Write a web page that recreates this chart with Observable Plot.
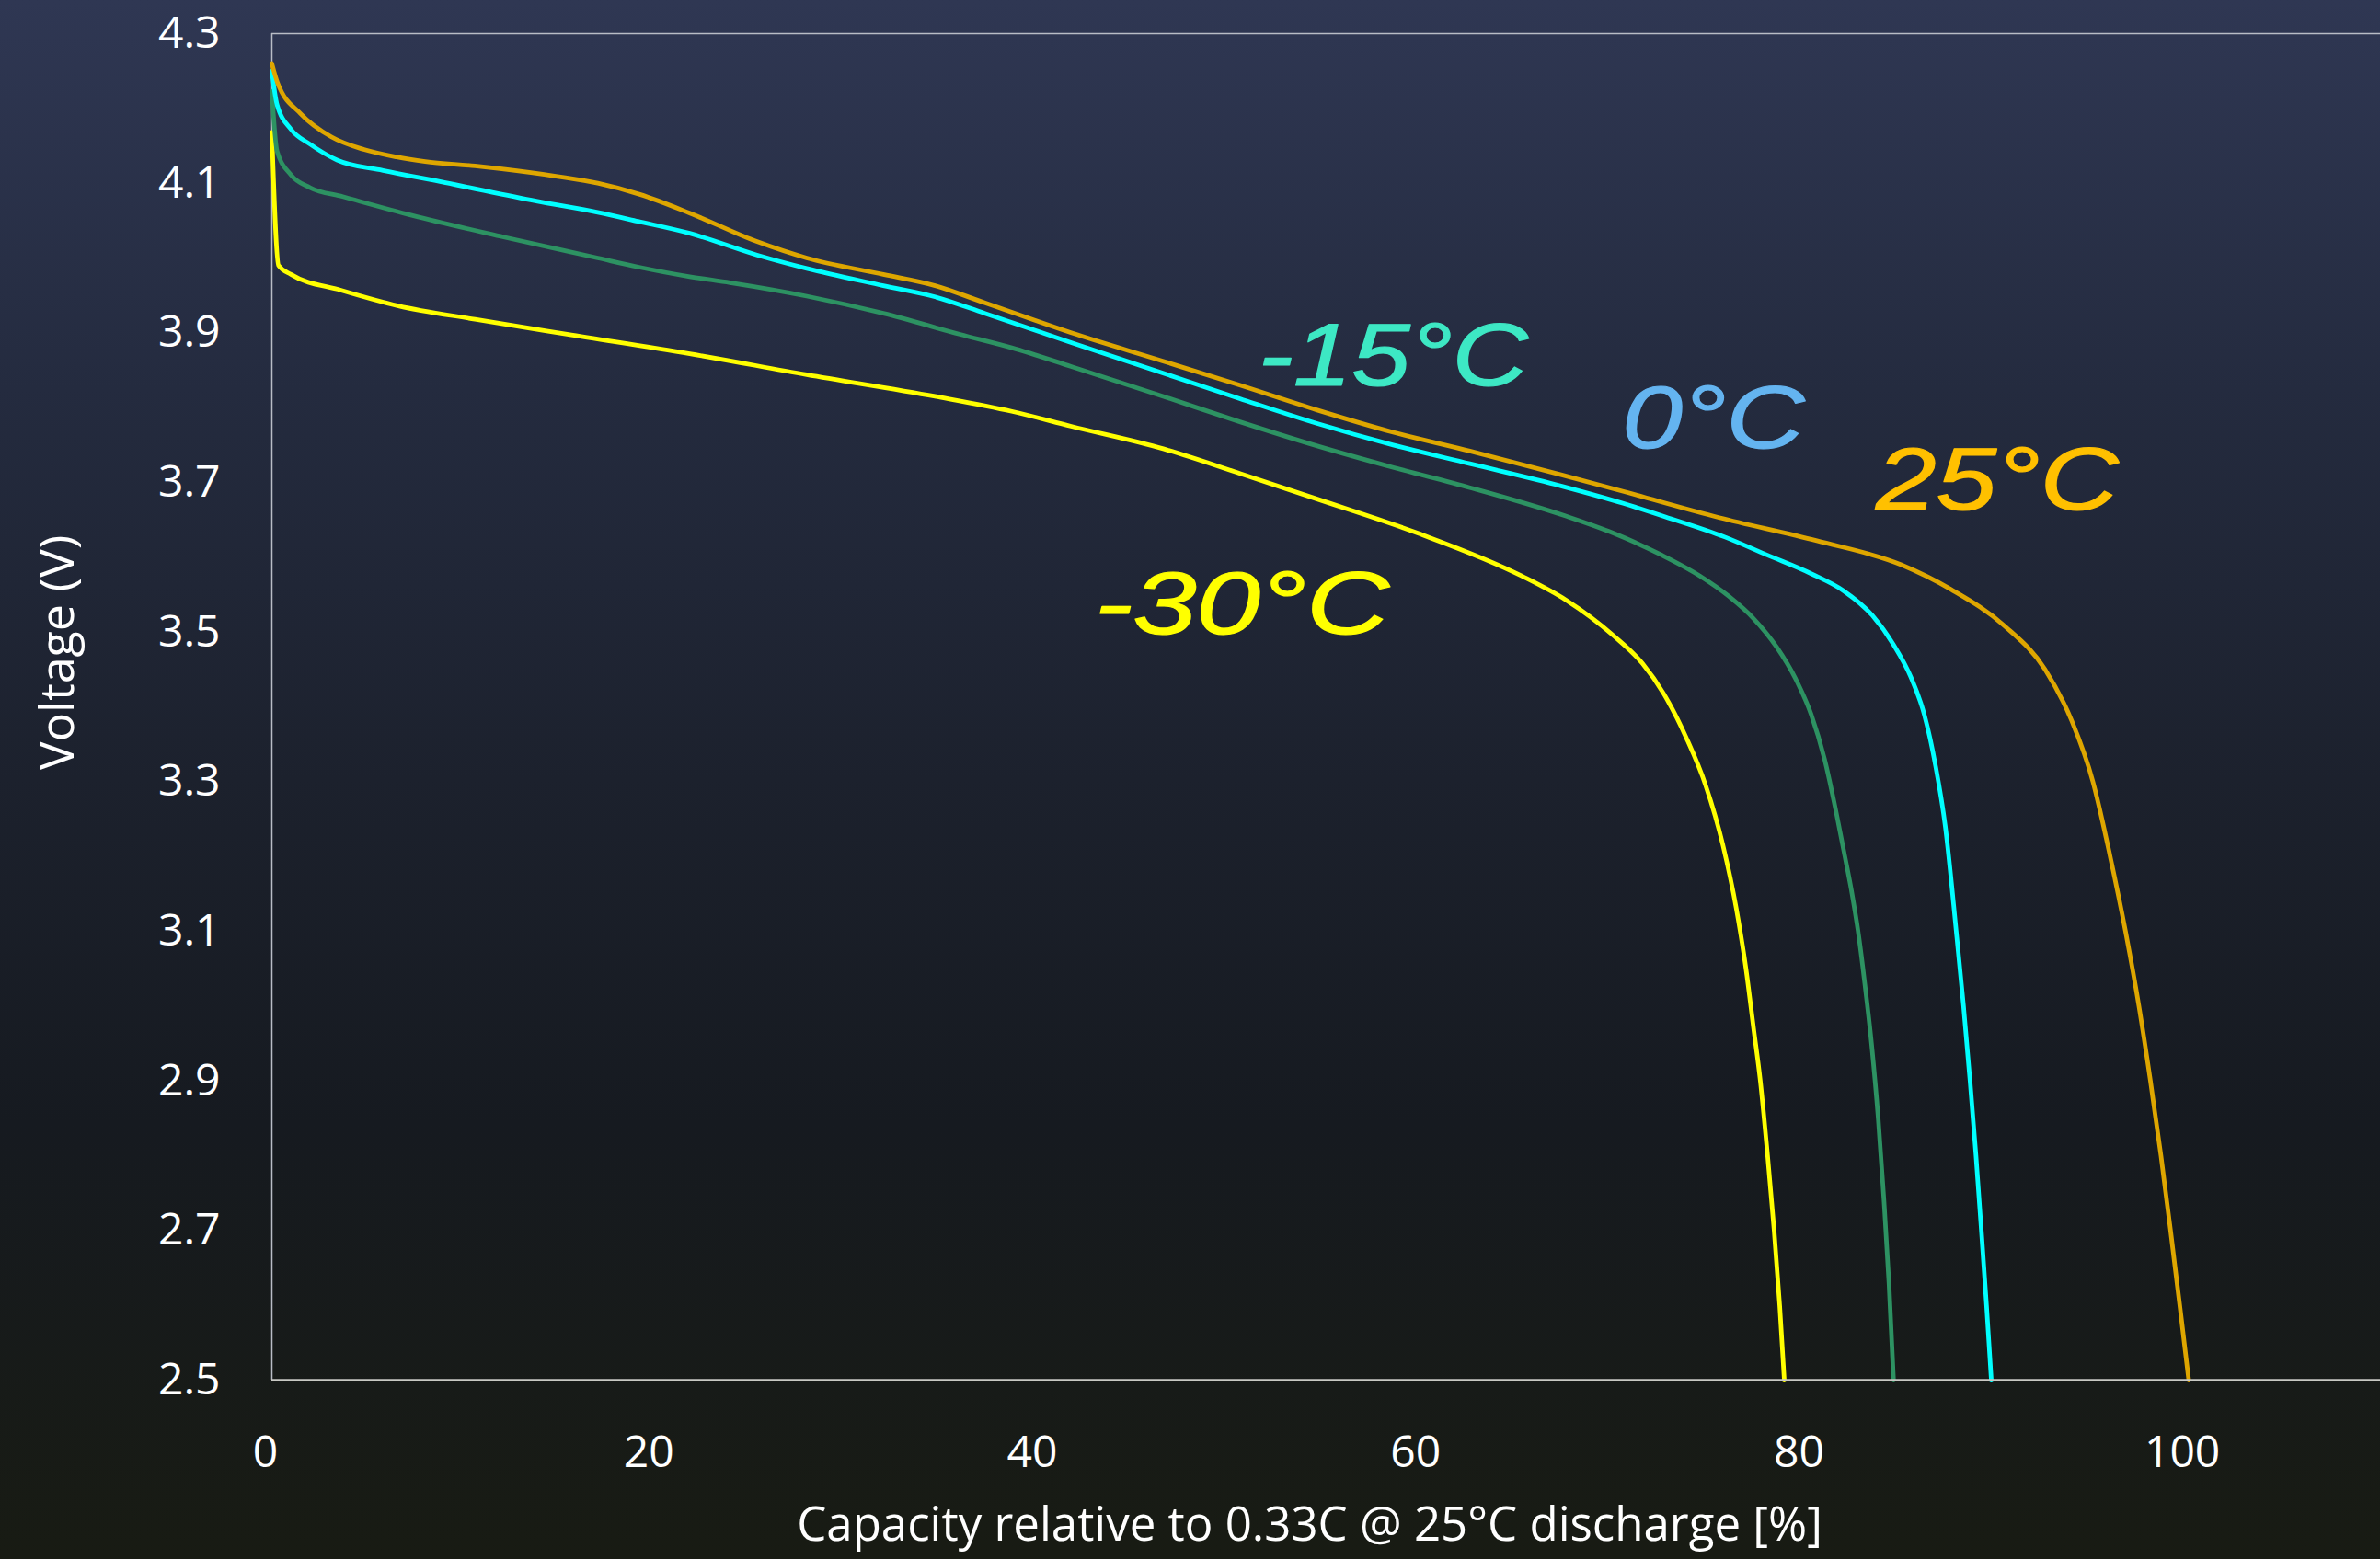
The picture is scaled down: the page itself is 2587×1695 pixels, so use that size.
<!DOCTYPE html>
<html>
<head>
<meta charset="utf-8">
<script src="https://cdn.jsdelivr.net/npm/d3@7"></script>
<script src="https://cdn.jsdelivr.net/npm/@observablehq/plot@0.6"></script>
<style>
html, body { margin: 0; padding: 0; }
body {
  width: 2587px; height: 1695px; overflow: hidden;
  background: linear-gradient(to bottom, #2f3753 0%, #242b3f 25%, #1c212d 50%, #161a20 72%, #181b13 100%);
}
#chart svg { display: block; }
</style>
</head>
<body>
<div id="chart"></div>
<script>
// ---- data ----
const xTicks = [0, 20, 40, 60, 80, 100];
const yTicks = [2.5, 2.7, 2.9, 3.1, 3.3, 3.5, 3.7, 3.9, 4.1, 4.3];
const xTitle = "Capacity relative to 0.33C @ 25°C discharge [%]";
const yTitle = "Voltage (V)";

// 25°C
const cap25 = [0,0.3,1.5,3.1,4.8,6.5,8,10.6,12,14.9,17,19.2,21.8,25.3,27.9,31.9,34.6,37.2,41.7,46.5,50.5,54.5,58.5,62.5,67.3,70.5,75.5,80.6,85,87.6,90.4,92.5,93.9,95,95.9,96.7,97.4,98,98.55,99.05,99.53,100];
const volt25 = [4.26,4.234,4.193,4.162,4.145,4.135,4.129,4.123,4.119,4.109,4.1,4.085,4.06,4.022,4.0,3.978,3.963,3.94,3.9,3.862,3.83,3.797,3.767,3.742,3.71,3.688,3.653,3.622,3.59,3.557,3.508,3.45,3.381,3.3,3.2,3.1,3.0,2.9,2.8,2.7,2.6,2.5];

// 0°C
const cap0 = [0,0.27,1,2,3.4,5.8,9,13.8,17,19.1,21.8,25.3,27.9,31.9,34.6,37.2,41.7,46.5,50.5,54.5,58.5,62.5,67.3,70.5,72.7,75.8,78,80.3,82,83.5,84.6,85.5,86.2,86.8,87.3,87.87,88.25,88.59,88.9,89.18,89.45,89.7];
const volt0 = [4.25,4.205,4.172,4.152,4.131,4.117,4.101,4.076,4.061,4.049,4.033,4.004,3.986,3.963,3.948,3.926,3.887,3.846,3.812,3.779,3.75,3.725,3.695,3.672,3.654,3.627,3.603,3.578,3.555,3.522,3.483,3.44,3.39,3.32,3.24,3.1,3.0,2.9,2.8,2.7,2.6,2.5];

// -15°C
const capM15 = [0,0.27,1,2,3.7,7.3,12.1,17,19.1,21.8,23.9,27.9,31.9,35.9,38.6,41.7,46.5,50.5,54.5,58.5,62.5,67.5,70,72.5,74.5,76,77.3,78.5,79.5,80.3,81,81.6,82,82.4,82.75,83.1,83.45,83.8,84.1,84.36,84.6];
const voltM15 = [4.223,4.143,4.111,4.094,4.082,4.057,4.028,4.0,3.988,3.975,3.967,3.949,3.926,3.898,3.88,3.855,3.815,3.781,3.749,3.72,3.693,3.655,3.632,3.603,3.575,3.548,3.518,3.48,3.437,3.39,3.33,3.26,3.208,3.155,3.1,3.03,2.95,2.85,2.74,2.63,2.5];

// -30°C
const capM30 = [0,0.35,1,3.6,6.6,10.6,15.4,21.8,27.9,34.6,38.6,41.7,46.5,50.5,54.5,59.8,65.2,67.5,70,71.5,72.6,73.8,74.8,75.7,76.4,76.9,77.3,77.65,78.03,78.37,78.66,78.9];
const voltM30 = [4.168,3.99,3.978,3.957,3.936,3.918,3.898,3.872,3.844,3.815,3.795,3.775,3.745,3.712,3.678,3.632,3.575,3.543,3.495,3.458,3.418,3.358,3.295,3.215,3.13,3.05,2.97,2.9,2.8,2.7,2.6,2.5];

const seriesCaps = [capM30, capM15, cap0, cap25];
const seriesVolts = [voltM30, voltM15, volt0, volt25];
const seriesColors = ["#ffff00", "#2d9262", "#00ffff", "#dea600"];

// curve labels
const labelText = ["-15°C", "0°C", "25°C", "-30°C"];
const labelCap = [58.5, 75.2, 90.0, 50.6];
const labelVolt = [3.867, 3.784, 3.701, 3.535];
const labelColor = ["#3de8c4", "#64b4f0", "#ffc000", "#ffff00"];
const labelStretch = [1.19, 1.23, 1.23, 1.30];

// ---- build ----
const lineMarks = seriesCaps.map((caps, s) =>
  Plot.line(caps.map((c, i) => ({cap: c, v: seriesVolts[s][i]})), {
    x: "cap", y: "v", stroke: seriesColors[s], strokeWidth: 4.8, curve: "monotone-x"
  })
);

const textMarks = labelText.map((t, i) =>
  Plot.text([{t, cap: labelCap[i], v: labelVolt[i], k: labelStretch[i]}], {
    x: "cap", y: "v", text: "t", fill: labelColor[i],
    stroke: labelColor[i], strokeWidth: 1.2,
    fontSize: 96, fontFamily: "'Liberation Sans', Arial, sans-serif", fontStyle: "italic",
    title: d => String(d.k)
  })
);

const chart = Plot.plot({
  width: 2587, height: 1695,
  marginTop: 36, marginBottom: 195, marginLeft: 295, marginRight: 0,
  style: {background: "transparent", color: "#ffffff", fontFamily: "'Open Sans', sans-serif", fontSize: "48px", overflow: "visible"},
  x: {domain: [0, 110]},
  y: {domain: [2.5, 4.3]},
  marks: [
    Plot.ruleY([4.3], {stroke: "#b9bdc6", strokeWidth: 1.5}),
    Plot.ruleX([0], {stroke: "#b9bdc6", strokeWidth: 1.5}),
    ...lineMarks,
    Plot.ruleY([2.5], {stroke: "#c9c9c4", strokeWidth: 2.5}),
    Plot.axisX({ticks: xTicks, tickSize: 0, tickPadding: 60, dx: -7, label: null}),
    Plot.axisY({ticks: yTicks, tickSize: 0, tickPadding: 56, tickFormat: d3.format(".1f"), label: null}),
    Plot.text([xTitle], {frameAnchor: "bottom", textAnchor: "middle", lineAnchor: "middle", dx: -18, dy: 158, fontSize: 51, fill: "#ffffff"}),
    Plot.text([yTitle], {frameAnchor: "left", textAnchor: "middle", lineAnchor: "middle", rotate: -90, dx: -232, dy: -59, fontSize: 52, fill: "#ffffff"}),
    ...textMarks
  ]
});

document.getElementById("chart").appendChild(chart);

// widen the curve labels horizontally like the reference lettering
chart.querySelectorAll("text").forEach(el => {
  const t = el.querySelector("title");
  if (!t) return;
  const k = +t.textContent;
  t.remove();
  const len = el.getComputedTextLength();
  el.setAttribute("textLength", (len * k).toFixed(1));
  el.setAttribute("lengthAdjust", "spacingAndGlyphs");
});
</script>
</body>
</html>
